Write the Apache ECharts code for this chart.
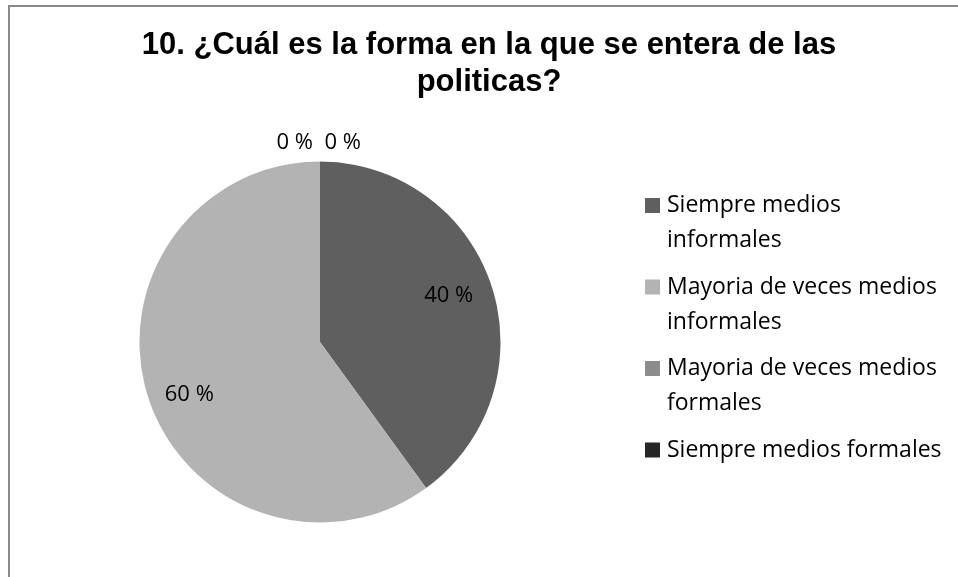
<!DOCTYPE html>
<html><head><meta charset="utf-8">
<script src="https://cdn.jsdelivr.net/npm/echarts@6/dist/echarts.min.js"></script>
<style>html,body{margin:0;padding:0;background:#fff}#c{width:958px;height:577px}</style>
</head><body><div id="c"></div>
<script>
const titleText = '10. ¿Cuál es la forma en la que se entera de las\npoliticas?';
const categories = ['Siempre medios informales','Mayoria de veces medios informales','Mayoria de veces medios formales','Siempre medios formales'];
const legendLabels = ['Siempre medios\ninformales','Mayoria de veces medios\ninformales','Mayoria de veces medios\nformales','Siempre medios formales'];
const values = [40, 60, 0, 0];
const colors = ['#5f5f5f','#b3b3b3','#8c8c8c','#262626'];

const labelFont = 'Open Sans';
const chart = echarts.init(document.getElementById('c'));
const seriesData = categories.map((n,i)=>({name:n, value:values[i], itemStyle:{color:colors[i]}}));
const labelOffsets = [[40,-17],[-42,24],[-2,0],[46,0]];
seriesData.forEach((d,i)=>{
  if (values[i] === 0) {
    d.label = {position:'outside', offset: labelOffsets[i]};
    d.labelLine = {show:false};
  } else {
    d.label = {position:'inside', offset: labelOffsets[i]};
  }
});
// Legend text: an empty first line keeps the first text line level with the icon
function legendText(n){
  const t = legendLabels[categories.indexOf(n)];
  return t.indexOf('\n') >= 0 ? '\n' + t : '\n' + t + '\n';
}
chart.setOption({
  animation:false,
  title:{text:titleText, left:484, top:22, textAlign:'center',
    textStyle:{fontFamily:'Liberation Sans', fontWeight:'bold', fontSize:31, lineHeight:37, color:'#000'}},
  legend:{orient:'vertical', left:645, top:153, padding:0, itemWidth:15, itemHeight:15, itemGap:-23.5, icon:'rect',
    data: categories,
    formatter: legendText,
    textStyle:{fontFamily:labelFont, fontSize:23, lineHeight:35, color:'#000', padding:[0,0,0,2]}},
  graphic:[
    {type:'rect', shape:{x:9, y:6, width:2000, height:2000}, style:{fill:'none', stroke:'#898989', lineWidth:2}, silent:true}
  ],
  series:[{type:'pie', center:[320,342], radius:180.5, startAngle:90, clockwise:true, avoidLabelOverlap:false,
    label:{show:true, formatter:'{c} %', fontFamily:labelFont, fontSize:22, color:'#000'},
    labelLine:{show:false, length:19, length2:0},
    emphasis:{disabled:true},
    data: seriesData}]
});
</script></body></html>
